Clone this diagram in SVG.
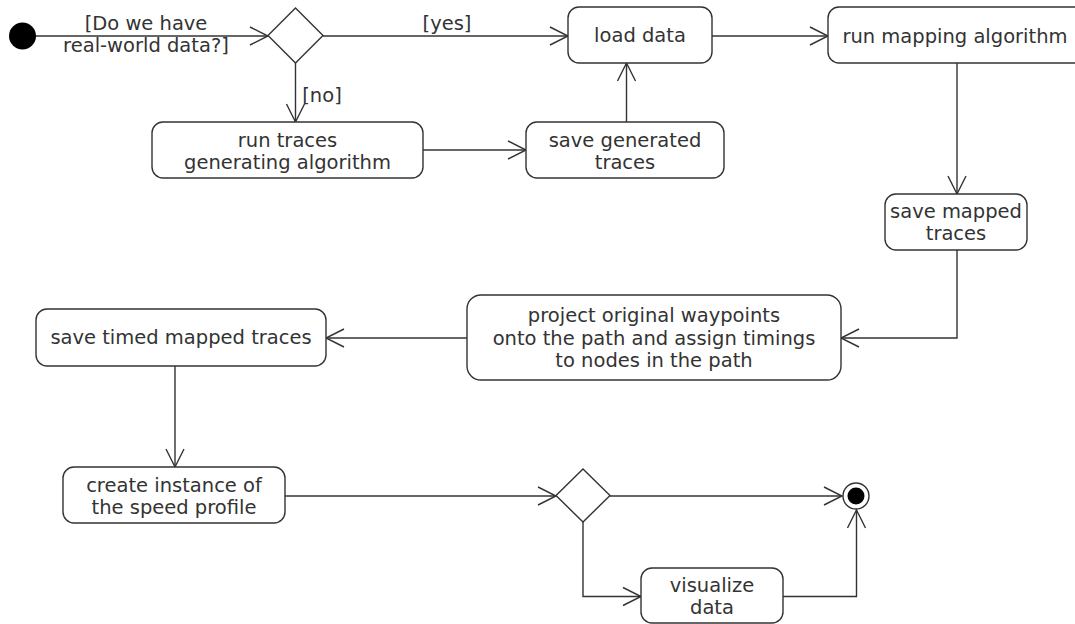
<svg xmlns="http://www.w3.org/2000/svg" width="1075" height="624" viewBox="0 0 1075 624">
<defs>
<style>
.n{fill:#fff;stroke:#333;stroke-width:1.4}
.t{font-family:"DejaVu Sans",sans-serif;font-size:19.5px;fill:#333;text-anchor:middle}
.c{fill:none;stroke:#333;stroke-width:1.4;marker-end:url(#arr)}
</style>
<marker id="arr" markerUnits="userSpaceOnUse" markerWidth="24" markerHeight="24" viewBox="-20 -12 24 24" refX="0" refY="0" orient="auto">
<path d="M-18,-9 L0,0 L-18,9" fill="none" stroke="#333" stroke-width="1.4"/>
</marker>
</defs>
<rect width="1075" height="624" fill="#fff"/>
<g id="connectors">
<path class="c" d="M35,36 H268"/>
<path class="c" d="M323,36 H568"/>
<path class="c" d="M295.5,63 V122"/>
<path class="c" d="M423,150 H526"/>
<path class="c" d="M626.5,122 V63"/>
<path class="c" d="M712,36 H828"/>
<path class="c" d="M957,63 V194"/>
<path class="c" d="M957,250 V338 H841"/>
<path class="c" d="M467,338 H326"/>
<path class="c" d="M175,366 V467"/>
<path class="c" d="M285,496 H556"/>
<path class="c" d="M610,496 H842"/>
<path class="c" d="M583,522 V596.5 H641"/>
<path class="c" d="M783,596.5 H856.5 V510"/>
<text class="t" x="146" y="30">[Do we have</text>
<text class="t" x="146" y="52">real-world data?]</text>
<text class="t" x="447" y="30">[yes]</text>
<text class="t" x="322" y="102">[no]</text>
</g>
<g id="start"><circle cx="22.5" cy="36" r="13.5" fill="#000"/></g>
<g id="decision1"><polygon class="n" points="295.5,8 323,35.5 295.5,63 268,35.5"/></g>
<g id="load"><rect class="n" x="568" y="7" width="144" height="56" rx="11"/><text class="t" x="640" y="42">load data</text></g>
<g id="mapping"><rect class="n" x="828" y="7" width="258" height="56" rx="11"/><text class="t" x="955" y="43">run mapping algorithm</text></g>
<g id="runtraces"><rect class="n" x="152" y="122" width="271" height="56" rx="11"/><text class="t" x="287.5" y="146.5">run traces</text><text class="t" x="287.5" y="168.5">generating algorithm</text></g>
<g id="savegen"><rect class="n" x="526" y="122" width="198" height="56" rx="11"/><text class="t" x="625" y="146.5">save generated</text><text class="t" x="625" y="168.5">traces</text></g>
<g id="savemapped"><rect class="n" x="885" y="194" width="142" height="56" rx="11"/><text class="t" x="956" y="218">save mapped</text><text class="t" x="956" y="240">traces</text></g>
<g id="project"><rect class="n" x="467" y="295" width="374" height="85" rx="14"/><text class="t" x="654" y="322">project original waypoints</text><text class="t" x="654" y="344.5">onto the path and assign timings</text><text class="t" x="654" y="367">to nodes in the path</text></g>
<g id="savetimed"><rect class="n" x="36" y="309" width="290" height="57" rx="11"/><text class="t" x="181" y="344">save timed mapped traces</text></g>
<g id="instance"><rect class="n" x="63" y="467" width="222" height="56" rx="11"/><text class="t" x="174" y="491.5">create instance of</text><text class="t" x="174" y="514">the speed profile</text></g>
<g id="decision2"><polygon class="n" points="583,469 610,495.5 583,522 556,495.5"/></g>
<g id="end"><circle cx="856" cy="496" r="13" fill="#fff" stroke="#333" stroke-width="1.4"/><circle cx="856" cy="496" r="8.5" fill="#000"/></g>
<g id="visualize"><rect class="n" x="641" y="568" width="142" height="55" rx="11"/><text class="t" x="712" y="591.5">visualize</text><text class="t" x="712" y="614">data</text></g>
</svg>
